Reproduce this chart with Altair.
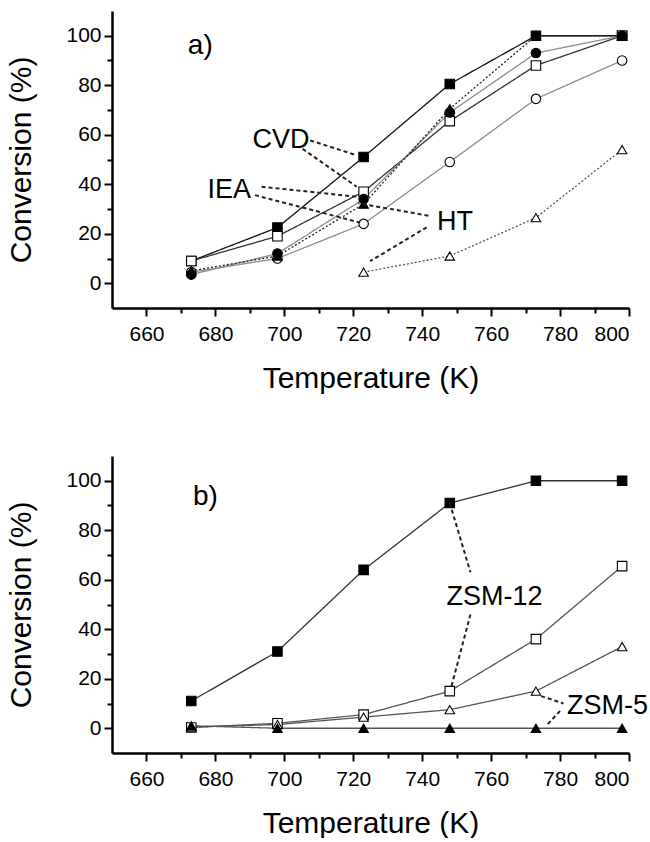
import altair as alt
import pandas as pd

FONT = "Liberation Sans"

T = [673, 698, 723, 748, 773, 798]

# ---- panel a) values (conversion %) ----
a_keys = ["CVD filled", "CVD open", "IEA open", "IEA filled", "HT open", "HT filled"]
a_vals = {
    "CVD filled": [9, 22.5, 51, 80.5, 100, 100],
    "CVD open": [9, 19, 37, 65.5, 88, 100],
    "IEA open": [4.5, 10, 24, 49, 74.5, 90],
    "IEA filled": [3.5, 12, 34, 69, 93, 100],
    "HT open": [None, None, 4.5, 11, 26.5, 54],
    "HT filled": [5, 11, 32, 70.5, 100, 100],
}
a_shapes = ["square", "square", "circle", "circle", "triangle-up", "triangle-up"]
a_fills = ["black", "white", "white", "black", "white", "black"]
a_lines = ["#111111", "#333333", "#8c8c8c", "#8c8c8c", "#555555", "#222222"]
a_dash = [[1, 0], [1, 0], [1, 0], [1, 0], [2, 2], [2, 2]]

# ---- panel b) values ----
b_keys = ["ZSM-12 filled", "ZSM-12 open", "ZSM-5 open", "ZSM-5 filled"]
b_vals = {
    "ZSM-12 filled": [11, 31, 64, 91, 100, 100],
    "ZSM-12 open": [0.3, 2, 5.5, 15, 36, 65.5],
    "ZSM-5 open": [0.5, 1.5, 4.5, 7.5, 15, 33],
    "ZSM-5 filled": [1, 0, 0, 0, 0, 0],
}
b_shapes = ["square", "square", "triangle-up", "triangle-up"]
b_fills = ["black", "white", "white", "black"]
b_lines = ["#333333", "#555555", "#555555", "#555555"]
b_dash = [[1, 0], [1, 0], [1, 0], [1, 0]]

# ---- annotations (data coordinates) ----
a_text_label = ["CVD", "IEA", "HT", "a)"]
a_text_x = [699, 684, 749.5, 672]
a_text_y = [57.7, 37.6, 24.9, 96]
a_text_align = ["center", "center", "center", "left"]
a_text_size = [27, 27, 27, 28]
a_lead_x = [707.5, 705.3, 693.4, 691.5, 741.8, 741.3]
a_lead_y = [57.7, 54.3, 39.0, 35.6, 27.3, 22.6]
a_lead_x2 = [721, 721, 721.5, 722, 721.5, 724.9]
a_lead_y2 = [51.7, 39.0, 34.9, 24.5, 32.3, 8.9]

b_text_label = ["ZSM-12", "ZSM-5", "b)"]
b_text_x = [761, 782, 673.5]
b_text_y = [52.9, 9.0, 93.5]
b_text_align = ["center", "left", "left"]
b_text_size = [27, 27, 28]
b_lead_x = [748, 754, 774.5, 780]
b_lead_y = [91, 46, 13, 7]
b_lead_x2 = [754, 748.5, 781, 776]
b_lead_y2 = [63, 17, 10, 1]

x_major = [660, 680, 700, 720, 740, 760, 780, 800]
x_minor = [670, 690, 710, 730, 750, 770, 790]
y_major = [0, 20, 40, 60, 80, 100]
y_minor = [10, 30, 50, 70, 90]

W, H = 517, 297


def long_df(keys, vals):
    rows = []
    for k in keys:
        for t, v in zip(T, vals[k]):
            if v is not None:
                rows.append({"T": t, "conv": v, "s": k})
    return pd.DataFrame(rows)


xs = alt.Scale(domain=[650, 800], nice=False, zero=False)
ys = alt.Scale(domain=[-10, 110], nice=False, zero=False)

common = dict(grid=False, tickColor="black", domainColor="black", labelColor="black",
              titleColor="black", labelFont=FONT, titleFont=FONT, titleFontWeight="normal",
              tickWidth=2)
major_x_axis = alt.Axis(values=x_major, title="Temperature (K)", orient="bottom",
                        tickSize=8, domainWidth=2.5, labelFontSize=21,
                        titleFontSize=30, titlePadding=19, labelPadding=7,
                        format="d", **common)
major_y_axis = alt.Axis(values=y_major, title="Conversion (%)", orient="left",
                        tickSize=8, domainWidth=2.5, labelFontSize=21,
                        titleFontSize=30, titlePadding=29, labelPadding=3,
                        format="d", **common)
minor_x_axis = alt.Axis(values=x_minor, title=None, orient="bottom", tickSize=5,
                        labels=False, domain=False, **common)
minor_y_axis = alt.Axis(values=y_minor, title=None, orient="left", tickSize=5,
                        labels=False, domain=False, **common)


def panel(keys, vals, shapes, fills, lines, dashes,
          tl, tx, ty, ta, tsz, lx, ly, lx2, ly2, ann_color):
    df = long_df(keys, vals)
    base = alt.Chart(df)
    line = base.mark_line(strokeWidth=1.3).encode(
        x=alt.X("T:Q", scale=xs, axis=major_x_axis),
        y=alt.Y("conv:Q", scale=ys, axis=major_y_axis),
        color=alt.Color("s:N", scale=alt.Scale(domain=keys, range=lines), legend=None),
        strokeDash=alt.StrokeDash("s:N", scale=alt.Scale(domain=keys, range=dashes), legend=None),
        detail="s:N",
    )
    pts = base.mark_point(size=90, stroke="black", strokeWidth=1.1, opacity=1).encode(
        x=alt.X("T:Q", scale=xs),
        y=alt.Y("conv:Q", scale=ys),
        shape=alt.Shape("s:N", scale=alt.Scale(domain=keys, range=shapes), legend=None),
        fill=alt.Fill("s:N", scale=alt.Scale(domain=keys, range=fills), legend=None),
    )
    lead_df = pd.DataFrame({"x": lx, "y": ly, "x2": lx2, "y2": ly2})
    leads = alt.Chart(lead_df).mark_rule(strokeDash=[4, 3], strokeWidth=2, color=ann_color).encode(
        x=alt.X("x:Q", scale=xs), y=alt.Y("y:Q", scale=ys), x2="x2:Q", y2="y2:Q")
    layers = [line, pts, leads]
    for lab, x, y, a, fs in zip(tl, tx, ty, ta, tsz):
        tdf = pd.DataFrame({"x": [x], "y": [y], "t": [lab]})
        layers.append(alt.Chart(tdf).mark_text(fontSize=fs, font=FONT, align=a,
                                                baseline="middle", color="black").encode(
            x=alt.X("x:Q", scale=xs), y=alt.Y("y:Q", scale=ys), text="t:N"))
    minor = alt.Chart(df).mark_point(opacity=0).encode(
        x=alt.X("T:Q", scale=xs, axis=minor_x_axis),
        y=alt.Y("conv:Q", scale=ys, axis=minor_y_axis),
    )
    main = alt.layer(*layers)
    return alt.layer(main, minor).resolve_axis(x="independent", y="independent").properties(
        width=W, height=H)


pa = panel(a_keys, a_vals, a_shapes, a_fills, a_lines, a_dash,
           a_text_label, a_text_x, a_text_y, a_text_align, a_text_size,
           a_lead_x, a_lead_y, a_lead_x2, a_lead_y2, "#222222")
pb = panel(b_keys, b_vals, b_shapes, b_fills, b_lines, b_dash,
           b_text_label, b_text_x, b_text_y, b_text_align, b_text_size,
           b_lead_x, b_lead_y, b_lead_x2, b_lead_y2, "#222222")

chart = alt.vconcat(pa, pb, spacing=63).resolve_scale(
    shape="independent", fill="independent", color="independent", strokeDash="independent"
).properties(
    padding={"left": 6, "top": 11, "right": 0, "bottom": 0},
    background="white",
).configure_view(stroke=None)

chart.save("out.html", embed_options={"renderer": "svg", "actions": False})
